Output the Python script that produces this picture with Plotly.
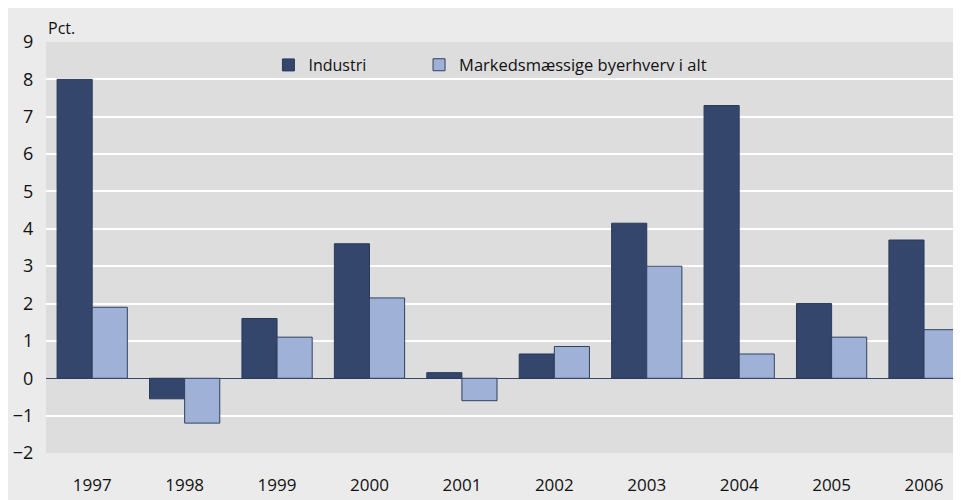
import plotly.graph_objects as go

years = ["1997", "1998", "1999", "2000", "2001", "2002", "2003", "2004", "2005", "2006"]
industri = [8.0, -0.55, 1.6, 3.6, 0.15, 0.65, 4.15, 7.3, 2.0, 3.7]
markeds = [1.9, -1.2, 1.1, 2.15, -0.6, 0.85, 3.0, 0.65, 1.1, 1.3]
y_ticks = [-2, -1, 0, 1, 2, 3, 4, 5, 6, 7, 8, 9]

DARK = "#34466b"
LIGHT = "#9fb1d6"
FONT = "Open Sans"

fig = go.Figure()
fig.add_trace(go.Bar(x=years, y=industri, name="Industri", legend="legend",
                     marker=dict(color=DARK, line=dict(color="#2a3a5a", width=1))))
fig.add_trace(go.Bar(x=years, y=markeds, name="Markedsmæssige byerhverv i alt",
                     legend="legend2",
                     marker=dict(color=LIGHT, line=dict(color="#2f4060", width=1))))

fig.update_layout(
    width=953, height=492,
    margin=dict(l=38, r=0, t=34, b=47),
    paper_bgcolor="#ebebeb",
    plot_bgcolor="#dddddd",
    barmode="group", bargap=0.24, bargroupgap=0,
    font=dict(family=FONT, color="#111111"),
    showlegend=True,
    legend=dict(orientation="h", x=0.2431, xanchor="left", y=0.944, yanchor="middle",
                bgcolor="rgba(0,0,0,0)", font=dict(size=16, family=FONT),
                itemclick=False, borderwidth=0),
    legend2=dict(orientation="h", x=0.4077, xanchor="left", y=0.944, yanchor="middle",
                 bgcolor="rgba(0,0,0,0)", font=dict(size=16.5, family=FONT),
                 itemclick=False, borderwidth=0),
    xaxis=dict(type="category", range=[-0.5, 9.4], showgrid=False,
               tickfont=dict(size=17), ticks="outside", ticklen=17,
               tickcolor="rgba(0,0,0,0)", showline=False, zeroline=False),
    yaxis=dict(range=[-2, 9], tickvals=y_ticks, showgrid=True, gridcolor="#ffffff",
               gridwidth=2, tickfont=dict(size=18), ticks="outside", ticklen=8,
               tickcolor="rgba(0,0,0,0)", zeroline=True, zerolinecolor=DARK,
               zerolinewidth=1),
    shapes=[
        # legend box covering gridline
        dict(type="rect", xref="paper", yref="paper", x0=0.2175, x1=0.780,
             y0=0.905, y1=0.995, fillcolor="#dddddd", line=dict(width=0),
             layer="between"),
    ],
    annotations=[
        dict(text="Pct.", xref="paper", yref="paper", x=0.0,
             y=1.034, xanchor="left", yanchor="middle", showarrow=False,
             font=dict(size=16, family=FONT, color="#111111")),
    ],
)

fig.write_html("out.html")
